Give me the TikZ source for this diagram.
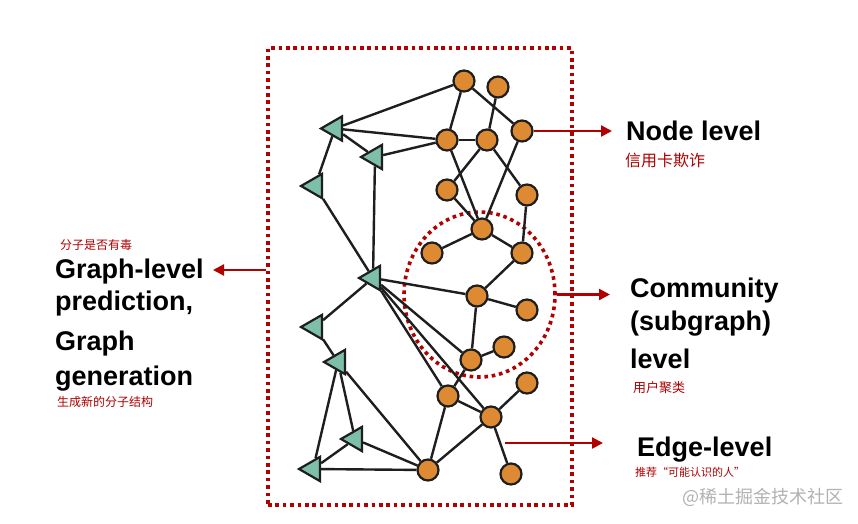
\documentclass[tikz,border=0pt]{standalone}
\usepackage{fontspec}
\setmainfont{Liberation Sans}
\newfontfamily\cjk{Noto Sans CJK SC}
\usetikzlibrary{shapes.geometric,arrows.meta}
\definecolor{myred}{HTML}{B00000}
\definecolor{myorange}{HTML}{DE8A33}
\definecolor{myteal}{HTML}{7DBFA9}
\definecolor{myink}{HTML}{1E1E1E}
\tikzset{
  onode/.style={circle, draw=myink, line width=2.2pt, fill=myorange, minimum size=21pt, inner sep=0pt},
  tnode/.style={regular polygon, regular polygon sides=3, shape border rotate=90, draw=myink, line width=2.2pt, fill=myteal, minimum size=28pt, inner sep=0pt},
  edge/.style={draw=myink, line width=2.4pt},
  dotline/.style={draw=myred, line width=3.6pt, dash pattern=on 3.6pt off 3.8pt},
  redarrow/.style={draw=myred, line width=2.2pt, -{Triangle[length=11pt,width=11pt]}},
  biglabel/.style={font=\fontsize{27}{30}\selectfont\bfseries, text=black, inner sep=0pt, anchor=base west},
  cnnote/.style={font=\cjk, text=myred, inner sep=0pt}
}
\begin{document}
\begin{tikzpicture}[x=1pt,y=-1pt]
\fill[white] (0,0) rectangle (858,523);
\useasboundingbox (0,0) rectangle (858,523);

% dotted frame and community ellipse
\node[dotline, rectangle, minimum width=304pt, minimum height=457pt, inner sep=0pt] (box) at (420,276.5) {};
\node[dotline, ellipse, minimum width=151pt, minimum height=165pt, inner sep=0pt] (comm) at (479.5,294.5) {};

% orange nodes
\node[onode] (A) at (464,81) {};
\node[onode] (B) at (498,87) {};
\node[onode] (C) at (522,131) {};
\node[onode] (D) at (447,140) {};
\node[onode] (E) at (487,140) {};
\node[onode] (F) at (447,190) {};
\node[onode] (G) at (527,195) {};
\node[onode] (H) at (482,229) {};
\node[onode] (I) at (432,253) {};
\node[onode] (J) at (522,253) {};
\node[onode] (K) at (477,296) {};
\node[onode] (L) at (527,310) {};
\node[onode] (M) at (504,347) {};
\node[onode] (N) at (471,360) {};
\node[onode] (O) at (527,383) {};
\node[onode] (P) at (448,396) {};
\node[onode] (Q) at (491,417) {};
\node[onode] (R) at (428,470) {};
\node[onode] (S) at (511,474) {};

% teal triangles
\node[tnode] (T1) at (335,128.5) {};
\node[tnode] (T2) at (375,157) {};
\node[tnode] (T3) at (315,186) {};
\node[tnode] (T4) at (373,278) {};
\node[tnode] (T5) at (315,327) {};
\node[tnode] (T6) at (338,362) {};
\node[tnode] (T7) at (355,439) {};
\node[tnode] (T8) at (313,469) {};

% edges
\foreach \a/\b in {A/T1, A/D, A/C, B/E, T1/D, T1/T2, T2/D, D/E, T1/T3, T2/T4, T3/T4,
  D/H, E/F, E/G, C/H, F/H, G/J, H/I, H/J, J/K, T4/K, K/L, K/N, N/M, T4/N, T4/P, T4/Q,
  T4/T5, T5/T6, T6/T7, T6/T8, T6/R, T7/T8, T7/R, T8/R, P/N, P/R, P/Q, Q/O, Q/R, Q/S}
  \draw[edge] (\a) -- (\b);

% labels
\node[biglabel] (nl) at (626,140) {Node level};
\node[cnnote, anchor=west, font=\cjk\fontsize{16}{18}\selectfont] (nlc) at (625,160) {信用卡欺诈};

\node[biglabel] (cl1) at (630,297) {Community};
\node[biglabel] (cl2) at (630,330) {(subgraph)};
\node[biglabel] (cl3) at (630,368) {level};
\node[cnnote, anchor=west, font=\cjk\fontsize{13}{15}\selectfont] (clc) at (633,388) {用户聚类};

\node[biglabel] (el) at (637,456) {Edge-level};
\node[cnnote, anchor=west, font=\cjk\fontsize{11}{13}\selectfont] (elc) at (635,472) {推荐“可能认识的人”};

\node[biglabel] (gl1) at (55,278) {Graph-level};
\node[biglabel] (gl2) at (55,310) {prediction,};
\node[biglabel] (gl3) at (55,350) {Graph};
\node[biglabel] (gl4) at (55,385) {generation};
\node[cnnote, anchor=west, font=\cjk\fontsize{12}{14}\selectfont] (glc1) at (60,245) {分子是否有毒};
\node[cnnote, anchor=west, font=\cjk\fontsize{12}{14}\selectfont] (glc2) at (57,402) {生成新的分子结构};

\node[anchor=west, inner sep=0pt, text=black!30, font=\cjk\fontsize{18}{20}\selectfont] (wm) at (682,497) {@稀土掘金技术社区};

% arrows
\coordinate (nltip) at (612,131);
\coordinate (cltip) at (610,294.5);
\coordinate (elstart) at (505,443);
\coordinate (eltip) at (603,443);
\coordinate (gltip) at (213,270);
\draw[redarrow] (C.east) -- (nltip);
\draw[redarrow] (comm.east) -- (cltip);
\draw[redarrow] (elstart) -- (eltip);
\draw[redarrow] (gltip -| box.west) -- (gltip);
\end{tikzpicture}
\end{document}
